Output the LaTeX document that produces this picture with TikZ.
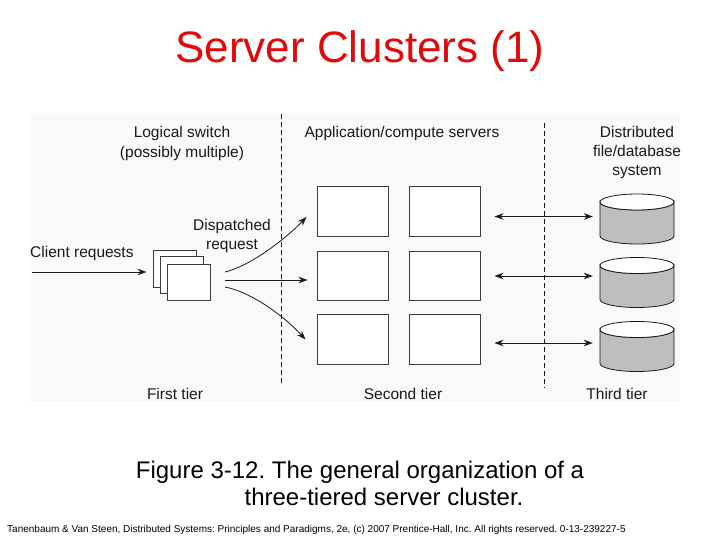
\documentclass[tikz,border=0pt]{standalone}
\usepackage{fontspec}
\setmainfont{Liberation Sans}
\usetikzlibrary{arrows.meta,calc}
\definecolor{titlered}{RGB}{225,10,10}
\definecolor{ink}{RGB}{25,25,25}
\definecolor{boxline}{RGB}{60,60,60}
\definecolor{cylgray}{RGB}{190,190,190}
\definecolor{bgpanel}{RGB}{249,249,249}
\frenchspacing
\begin{document}
\begin{tikzpicture}[x=1pt,y=-1pt,
  lbl/.style={inner sep=0pt,anchor=base,text=ink,font=\fontsize{15.5}{18}\selectfont},
  srv/.style={draw=boxline,line width=1pt,fill=white,minimum width=71pt,minimum height=49.5pt,inner sep=0pt},
  sheet/.style={draw=boxline,line width=0.9pt,fill=white,minimum width=43pt,minimum height=36.5pt,inner sep=0pt},
  dbnode/.style={minimum width=74pt,minimum height=49pt,inner sep=0pt},
  arr/.style={draw=ink,line width=0.8pt,-{Stealth[length=9pt,width=6.5pt]}},
  darr/.style={draw=ink,line width=0.8pt,{Stealth[length=9pt,width=6.5pt]}-{Stealth[length=9pt,width=6.5pt]}},
  sep/.style={draw=ink,line width=0.7pt,dash pattern=on 5pt off 3pt}]
\useasboundingbox (0,0) rectangle (720,540);
% panel
\fill[bgpanel] (30,113) rectangle (680,402);
% title
\node[inner sep=0pt,anchor=base,text=titlered,font=\fontsize{44}{50}\selectfont] (title) at (360,63) {Server Clusters (1)};
% separators
\coordinate (d1t) at (281,114); \coordinate (d1b) at (281,386);
\coordinate (d2t) at (544,123); \coordinate (d2b) at (544,388);
\draw[sep] (d1t) -- (d1b);
\draw[sep] (d2t) -- (d2b);
% labels
\node[lbl] (ls1) at (182,138) {Logical switch};
\node[lbl] (ls2) at (182,157.5) {(possibly multiple)};
\node[lbl] (app) at (402,137.5) {Application/compute servers};
\node[lbl] (dfs1) at (637,138) {Distributed};
\node[lbl] (dfs2) at (637,157) {file/database};
\node[lbl] (dfs3) at (637,176) {system};
\node[lbl] (dr1) at (232,230.5) {Dispatched};
\node[lbl] (dr2) at (232,249.5) {request};
\node[lbl,anchor=base west] (cr) at (30,258) {Client requests};
\node[lbl] (t1) at (175,399) {First tier};
\node[lbl] (t2) at (403,399) {Second tier};
\node[lbl] (t3) at (617,399) {Third tier};
% sheets (switch)
\node[sheet] (sh1) at (174.5,269) {};
\node[sheet] (sh2) at (182,275) {};
\node[sheet] (sh3) at (189,282.5) {};
% servers
\node[srv] (s11) at (352.5,211.5) {};
\node[srv] (s12) at (444.5,211.5) {};
\node[srv] (s21) at (352.5,276) {};
\node[srv] (s22) at (444.5,276) {};
\node[srv] (s31) at (352.5,339.5) {};
\node[srv] (s32) at (444.5,339.5) {};
% databases
\foreach \n/\t in {c1/202,c2/265.5,c3/329.5}{
  \filldraw[draw=ink,line width=0.8pt,fill=cylgray]
    (600,\t) -- (600,\t+34) arc[start angle=180,end angle=360,x radius=37pt,y radius=8pt]
    -- (674,\t) arc[start angle=0,end angle=-180,x radius=37pt,y radius=8pt] -- cycle;
  \filldraw[draw=ink,line width=0.8pt,fill=white] (637,\t) ellipse[x radius=37pt,y radius=8pt];
  \node[dbnode] (\n) at (637,\t+17) {};
}
% client requests arrow
\coordinate (client) at (32,272);
\draw[arr,shorten >=6pt] (client) -- (client -| sh1.west);
% dispatch arrows
\draw[arr] ([xshift=14pt,yshift=10.5pt]sh3.east) .. controls +(25,-6) and +(-22,23) .. ([xshift=-10pt,yshift=-5.5pt]s11.west);
\draw[arr] ([xshift=14pt,yshift=2.5pt]sh3.east) -- ([xshift=-9pt,yshift=2.5pt]sh3.east -| s21.west);
\draw[arr] ([xshift=14pt,yshift=-4.5pt]sh3.east) .. controls +(27,5) and +(-20,-22) .. ([xshift=-11pt]s31.west);
% server <-> database arrows
\draw[darr] ([xshift=14pt,yshift=-5pt]s12.east) -- ([xshift=-7pt,yshift=-5pt]s12.east -| c1.west);
\draw[darr] ([xshift=14pt]s22.east) -- ([xshift=-7pt]s22.east -| c2.west);
\draw[darr] ([xshift=14pt,yshift=-3.5pt]s32.east) -- ([xshift=-7pt,yshift=-3.5pt]s32.east -| c3.west);
% caption
\node[inner sep=0pt,anchor=base,font=\fontsize{24}{28}\selectfont] (cap1) at (360,478) {Figure 3-12. The general organization of a};
\node[inner sep=0pt,anchor=base,font=\fontsize{24}{28}\selectfont] (cap2) at (384,505) {three-tiered server cluster.};
% footer
\node[inner sep=0pt,anchor=base west,font=\fontsize{10}{12}\selectfont] (foot) at (7,532) {Tanenbaum \& Van Steen, Distributed Systems: Principles and Paradigms, 2e, (c) 2007 Prentice-Hall, Inc. All rights reserved. 0-13-239227-5};
\end{tikzpicture}
\end{document}
